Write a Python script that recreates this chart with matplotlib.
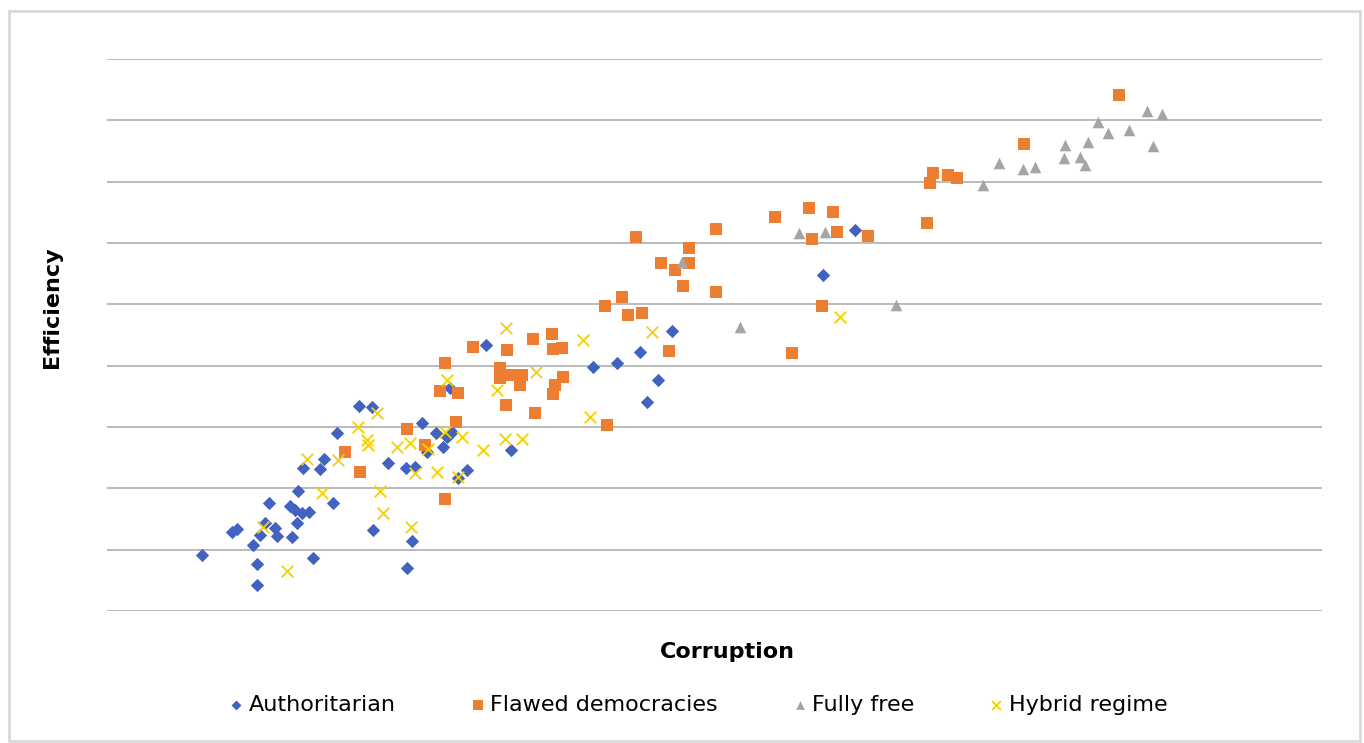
import matplotlib
matplotlib.use('Agg')
import matplotlib.pyplot as plt
from matplotlib.patches import Rectangle

# Scatter: corruption vs efficiency by regime type
auth_x = [0.95, 1.25, 1.30, 1.46, 1.50, 1.50, 1.53, 1.58, 1.62, 1.68, 1.70, 1.83, 1.85,
          1.88, 1.90, 1.91, 1.95, 1.96, 2.02, 2.06, 2.13, 2.17, 2.26, 2.30, 2.52, 2.65,
          2.66, 2.81, 2.99, 3.08, 3.00, 3.05, 3.15, 3.29, 3.45, 3.40, 3.36, 3.20, 3.43,
          3.51, 3.60, 3.79, 4.04, 4.86, 5.10, 5.33, 5.40, 5.51, 5.65, 7.16, 7.48]
auth_y = [0.91, 1.29, 1.34, 1.08, 0.77, 0.42, 1.24, 1.43, 1.76, 1.35, 1.22, 1.71, 1.21,
          1.65, 1.43, 1.96, 1.60, 2.33, 1.61, 0.86, 2.32, 2.48, 1.76, 2.90, 3.34, 3.33,
          1.32, 2.41, 2.33, 2.35, 0.70, 1.14, 3.07, 2.90, 2.92, 2.84, 2.67, 2.59, 3.64,
          2.17, 2.30, 4.34, 2.63, 3.98, 4.04, 4.22, 3.41, 3.77, 4.57, 5.48, 6.21]

flawed_x = [2.38, 2.53, 3.00, 3.18, 3.38, 3.33, 3.51, 3.38, 3.49, 3.66, 4.00, 3.93, 3.93,
            4.04, 4.15, 4.13, 3.99, 4.26, 4.28, 4.45, 4.46, 4.55, 4.56, 4.48, 4.46, 5.00,
            4.98, 5.15, 5.21, 5.35, 5.62, 5.76, 5.68, 5.54, 5.82, 5.82, 5.29, 6.09, 6.09,
            6.68, 7.02, 7.26, 7.05, 7.30, 7.61, 7.15, 6.85, 8.20, 8.23, 8.26, 8.41, 8.50,
            9.17, 10.12]
flawed_y = [2.59, 2.27, 2.97, 2.71, 1.83, 3.59, 3.55, 4.04, 3.08, 4.30, 4.26, 3.96, 3.80,
            3.85, 3.85, 3.69, 3.36, 4.44, 3.23, 4.52, 4.27, 4.29, 3.82, 3.69, 3.54, 3.03,
            4.97, 5.12, 4.83, 4.86, 4.24, 5.30, 5.56, 5.67, 5.67, 5.92, 6.10, 6.23, 5.20,
            6.42, 6.57, 6.51, 6.07, 6.18, 6.11, 4.97, 4.21, 6.33, 6.98, 7.14, 7.11, 7.06,
            7.61, 8.41]

free_x = [5.75, 6.33, 6.92, 7.18, 7.89, 8.76, 8.92, 9.16, 9.28, 9.57, 9.58, 9.73, 9.78,
          9.81, 9.91, 10.01, 10.22, 10.40, 10.55, 10.46]
free_y = [5.69, 4.63, 6.16, 6.18, 4.99, 6.95, 7.30, 7.21, 7.24, 7.39, 7.60, 7.40, 7.27,
          7.65, 7.97, 7.79, 7.84, 8.15, 8.10, 7.58]

hybrid_x = [1.80, 1.56, 2.00, 2.31, 2.15, 2.51, 2.70, 2.60, 2.61, 2.90, 3.03, 3.21, 3.38,
            3.55, 3.30, 3.08, 3.51, 2.73, 2.76, 3.04, 3.40, 3.90, 3.99, 4.29, 4.76, 5.45,
            4.83, 3.76, 3.98, 4.15, 7.33]
hybrid_y = [0.65, 1.37, 2.48, 2.46, 1.92, 3.00, 3.23, 2.79, 2.71, 2.67, 2.74, 2.64, 2.92,
            2.84, 2.27, 2.25, 2.18, 1.96, 1.60, 1.37, 3.77, 3.60, 4.61, 3.90, 4.42, 4.55,
            3.16, 2.63, 2.80, 2.80, 4.79]

c_auth = '#4262C2'
c_flawed = '#ED7D31'
c_free = '#A5A5A5'
c_hybrid = '#F5D000'

fig = plt.figure(figsize=(13.64, 7.43), dpi=100)
fig.patch.set_facecolor('white')
# light chart border
fig.patches.append(Rectangle((9/1364, 2/743), 1351/1364, 730/743, transform=fig.transFigure,
                             fill=False, edgecolor='#D9D9D9', linewidth=2))

ax = fig.add_axes([107/1364, 1 - 611/743, 1215/1364, 552/743])
ax.set_xlim(0, 12.15)
ax.set_ylim(0, 9)
ax.set_yticks(range(0, 10))
ax.set_xticks([])
ax.yaxis.grid(True, color='#A8A8A8', linewidth=1.1)
ax.set_axisbelow(True)
ax.tick_params(left=False, labelleft=False, bottom=False, labelbottom=False)
for s in ax.spines.values():
    s.set_visible(False)

ax.scatter(auth_x, auth_y, marker='D', s=46, color=c_auth, linewidths=0, label='Authoritarian', zorder=3)
ax.scatter(flawed_x, flawed_y, marker='s', s=80, color=c_flawed, linewidths=0, label='Flawed democracies', zorder=3)
ax.scatter(free_x, free_y, marker='^', s=70, color=c_free, linewidths=0, label='Fully free', zorder=3)
ax.scatter(hybrid_x, hybrid_y, marker='x', s=70, color=c_hybrid, linewidths=1.3, label='Hybrid regime', zorder=3)

fig.text(52/1364, 1 - 307/743, 'Efficiency', rotation=90, ha='center', va='center',
         fontsize=16, fontweight='bold', family='DejaVu Sans')
fig.text(727/1364, 1 - 652/743, 'Corruption', ha='center', va='center',
         fontsize=16, fontweight='bold', family='DejaVu Sans')

leg = fig.legend(loc='center', bbox_to_anchor=(699/1364, 1 - 705/743), ncol=4, frameon=False,
                 fontsize=16, markerscale=0.75, handlelength=0.5, handletextpad=0.3,
                 columnspacing=3.45)

fig.savefig('out.png', dpi=100)
